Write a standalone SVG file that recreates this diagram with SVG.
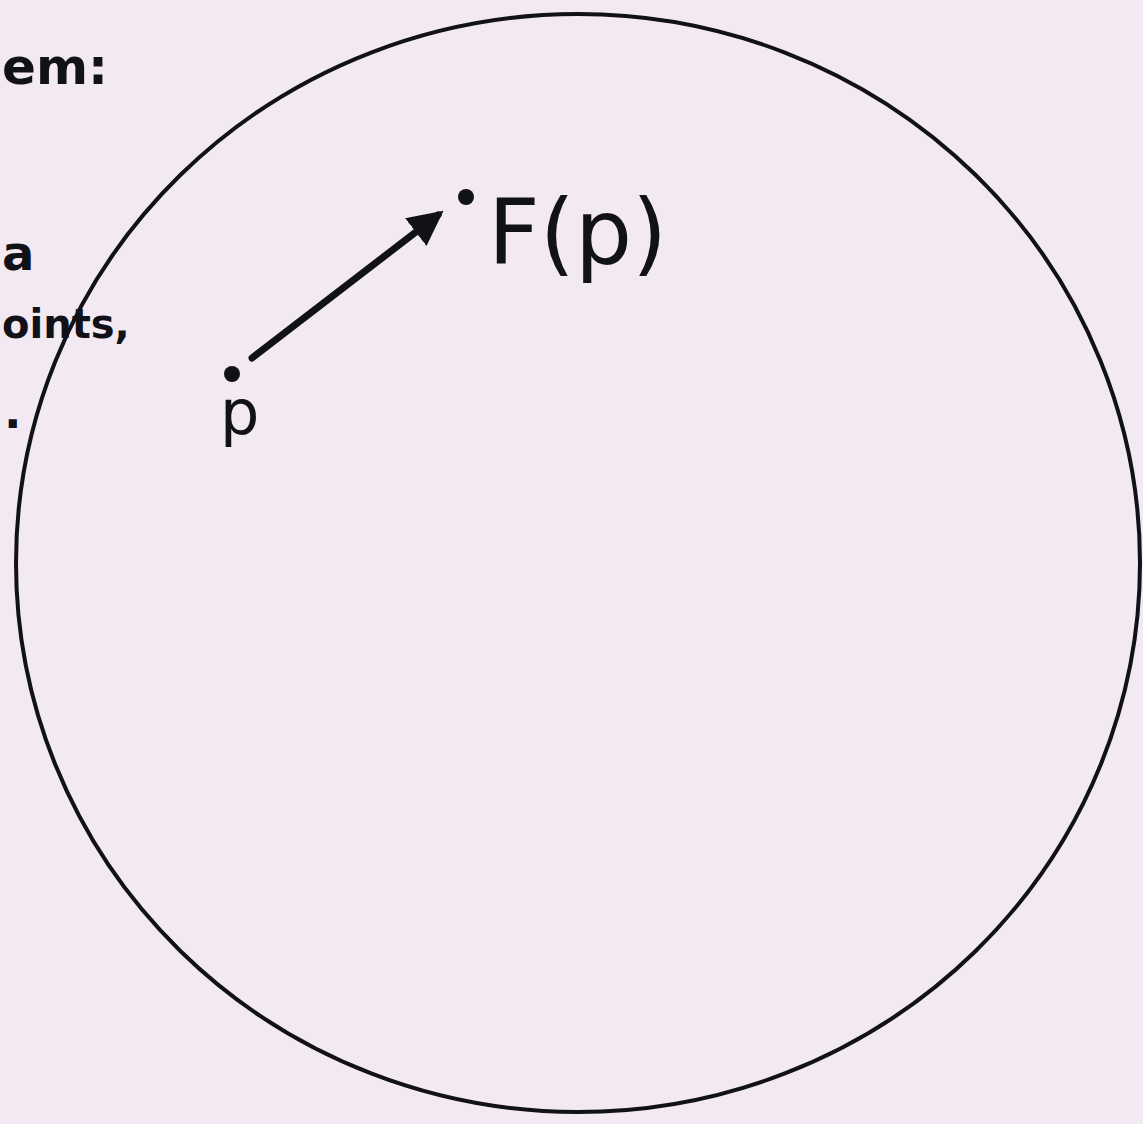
<svg xmlns="http://www.w3.org/2000/svg" width="1143" height="1124" viewBox="0 0 1143 1124">
<defs>
<style>
.ink{fill:#111118;}
.lbl{font-family:"DejaVu Sans","Liberation Sans",sans-serif;fill:#111118;}
.frag{font-family:"DejaVu Sans","Liberation Sans",sans-serif;fill:#111118;font-weight:bold;}
</style>
<marker id="ah" viewBox="0 0 10 10" refX="8" refY="5" markerWidth="5" markerHeight="5" orient="auto" markerUnits="strokeWidth">
<path d="M0,0 L10,5 L0,10 z" fill="#111118"/>
</marker>
</defs>
<rect width="1143" height="1124" fill="#f3e9f2"/>
<g id="fragments">
<text class="frag" x="2" y="84" font-size="50">em:</text>
<text class="frag" x="2" y="270" font-size="48">a</text>
<text class="frag" x="2" y="338" font-size="40">oints,</text>
<text class="frag" x="4" y="428" font-size="46">.</text>
</g>
<g id="disk">
<ellipse cx="578" cy="563" rx="562" ry="549" fill="none" stroke="#111118" stroke-width="4"/>
</g>
<g id="p">
<circle class="ink" cx="232" cy="374" r="8"/>
<text class="lbl" x="220" y="434" font-size="62">p</text>
</g>
<g id="Fp">
<circle class="ink" cx="466" cy="197" r="8"/>
<text class="lbl" x="488" y="264" font-size="90">F(p)</text>
</g>
<g id="connectors">
<line x1="252" y1="358" x2="438" y2="215" stroke="#111118" stroke-width="7" stroke-linecap="round" marker-end="url(#ah)"/>
</g>
</svg>
